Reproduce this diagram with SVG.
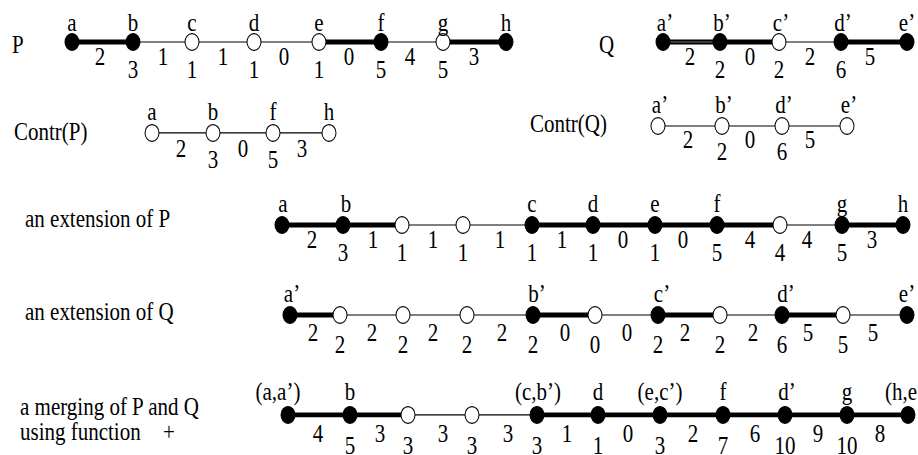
<svg xmlns="http://www.w3.org/2000/svg" width="918" height="455" viewBox="0 0 918 455">
<style>
text{font-family:"Liberation Serif","Times New Roman",serif;font-size:21px;fill:#000}
.m{text-anchor:middle}
.F{fill:#000;stroke:#000;stroke-width:1}
.O{fill:#fff;stroke:#000;stroke-width:1}
.k{stroke:#000;stroke-width:4;fill:none}
.n{stroke:#000;stroke-width:1;fill:none}
.dl{stroke:#777;stroke-width:1;fill:none}
</style>
<rect width="918" height="455" fill="#fff"/>
<g transform="scale(1,1.2)">
<g id="titles">
<text x="12" y="44">P</text>
<text x="599" y="44">Q</text>
<text x="14" y="116.7">Contr(P)</text>
<text x="530" y="110">Contr(Q)</text>
<text x="25" y="189">an extension of P</text>
<text x="25" y="266.7">an extension of Q</text>
<text x="20" y="345.8">a merging of P and Q</text>
<text x="20" y="367">using function</text>
<text x="163" y="367">+</text>
</g>
<g id="connectors">
<!-- P -->
<line class="k" x1="72" y1="35" x2="133" y2="35"/><text class="m" x="100" y="54">2</text>
<line class="n" x1="133" y1="35" x2="192" y2="35"/><text class="m" x="163" y="54">1</text>
<line class="n" x1="192" y1="35" x2="254" y2="35"/><text class="m" x="223" y="54">1</text>
<line class="n" x1="254" y1="35" x2="319" y2="35"/><text class="m" x="284" y="54">0</text>
<line class="k" x1="319" y1="35" x2="381" y2="35"/><text class="m" x="349" y="54">0</text>
<line class="n" x1="381" y1="35" x2="443" y2="35"/><text class="m" x="410" y="54">4</text>
<line class="k" x1="443" y1="35" x2="506" y2="35"/><text class="m" x="474" y="54">3</text>
<!-- Q -->
<line class="k" x1="663" y1="35" x2="720" y2="35"/><line class="dl" x1="663" y1="35" x2="720" y2="35"/><text class="m" x="690" y="54">2</text>
<line class="k" x1="720" y1="35" x2="779" y2="35"/><text class="m" x="750" y="54">0</text>
<line class="n" x1="779" y1="35" x2="841" y2="35"/><text class="m" x="810" y="54">2</text>
<line class="k" x1="841" y1="35" x2="907" y2="35"/><text class="m" x="870" y="54">5</text>
<!-- Contr(P) -->
<line class="n" x1="152" y1="110.8" x2="329" y2="110.8"/>
<text class="m" x="181" y="130.8">2</text><text class="m" x="243" y="130.8">0</text><text class="m" x="302" y="130.8">3</text>
<!-- Contr(Q) -->
<line class="n" x1="658" y1="105" x2="847" y2="105"/>
<text class="m" x="688" y="123.3">2</text><text class="m" x="750" y="123.3">0</text><text class="m" x="810" y="123.3">5</text>
<!-- extension of P -->
<line class="k" x1="282" y1="187.5" x2="402" y2="187.5"/>
<line class="n" x1="402" y1="187.5" x2="532" y2="187.5"/>
<line class="k" x1="532" y1="187.5" x2="780" y2="187.5"/>
<line class="n" x1="780" y1="187.5" x2="842" y2="187.5"/>
<line class="k" x1="842" y1="187.5" x2="903" y2="187.5"/>
<text class="m" x="312" y="206.7">2</text><text class="m" x="373" y="206.7">1</text><text class="m" x="433" y="206.7">1</text><text class="m" x="500" y="206.7">1</text><text class="m" x="562" y="206.7">1</text><text class="m" x="623" y="206.7">0</text><text class="m" x="683" y="206.7">0</text><text class="m" x="750" y="206.7">4</text><text class="m" x="807" y="206.7">4</text><text class="m" x="872" y="206.7">3</text>
<!-- extension of Q -->
<line class="k" x1="290" y1="262.5" x2="340" y2="262.5"/>
<line class="n" x1="340" y1="262.5" x2="533" y2="262.5"/>
<line class="k" x1="533" y1="262.5" x2="595" y2="262.5"/>
<line class="n" x1="595" y1="262.5" x2="658" y2="262.5"/>
<line class="k" x1="658" y1="262.5" x2="720" y2="262.5"/>
<line class="n" x1="720" y1="262.5" x2="782" y2="262.5"/>
<line class="k" x1="782" y1="262.5" x2="843" y2="262.5"/>
<line class="n" x1="843" y1="262.5" x2="907" y2="262.5"/>
<text class="m" x="313" y="284">2</text><text class="m" x="372" y="284">2</text><text class="m" x="433" y="284">2</text><text class="m" x="502" y="284">2</text><text class="m" x="565" y="284">0</text><text class="m" x="627" y="284">0</text><text class="m" x="685" y="284">2</text><text class="m" x="753" y="284">2</text><text class="m" x="808" y="284">5</text><text class="m" x="873" y="284">5</text>
<!-- merging -->
<line class="k" x1="288" y1="345.8" x2="408" y2="345.8"/>
<line class="n" x1="408" y1="345.8" x2="537" y2="345.8"/>
<line class="k" x1="537" y1="345.8" x2="908" y2="345.8"/>
<text class="m" x="318" y="368">4</text><text class="m" x="380" y="368">3</text><text class="m" x="443" y="368">3</text><text class="m" x="508" y="368">3</text><text class="m" x="567" y="368">1</text><text class="m" x="628" y="368">0</text><text class="m" x="693" y="368">2</text><text class="m" x="755" y="368">6</text><text class="m" x="818" y="368">9</text><text class="m" x="880" y="368">8</text>
</g>
<!-- P nodes -->
<g id="P-a"><circle class="F" cx="72" cy="35" r="7"/><text class="m" x="72" y="25.8">a</text></g>
<g id="P-b"><circle class="F" cx="133" cy="35" r="7"/><text class="m" x="133" y="25.8">b</text><text class="m" x="133" y="65">3</text></g>
<g id="P-c"><circle class="O" cx="192" cy="35" r="7"/><text class="m" x="192" y="25.8">c</text><text class="m" x="192" y="65">1</text></g>
<g id="P-d"><circle class="O" cx="254" cy="35" r="7"/><text class="m" x="254" y="25.8">d</text><text class="m" x="254" y="65">1</text></g>
<g id="P-e"><circle class="O" cx="319" cy="35" r="7"/><text class="m" x="319" y="25.8">e</text><text class="m" x="319" y="65">1</text></g>
<g id="P-f"><circle class="F" cx="381" cy="35" r="7"/><text class="m" x="381" y="25.8">f</text><text class="m" x="381" y="65">5</text></g>
<g id="P-g"><circle class="O" cx="443" cy="35" r="7"/><text class="m" x="443" y="25.8">g</text><text class="m" x="443" y="65">5</text></g>
<g id="P-h"><circle class="F" cx="506" cy="35" r="7"/><text class="m" x="506" y="25.8">h</text></g>
<!-- Q nodes -->
<g id="Q-a"><circle class="F" cx="663" cy="35" r="7"/><text class="m" x="665" y="25.8">a’</text></g>
<g id="Q-b"><circle class="F" cx="720" cy="35" r="7"/><text class="m" x="722" y="25.8">b’</text><text class="m" x="720" y="65">2</text></g>
<g id="Q-c"><circle class="O" cx="779" cy="35" r="7"/><text class="m" x="781" y="25.8">c’</text><text class="m" x="779" y="65">2</text></g>
<g id="Q-d"><circle class="F" cx="841" cy="35" r="7"/><text class="m" x="843" y="25.8">d’</text><text class="m" x="841" y="65">6</text></g>
<g id="Q-e"><circle class="F" cx="907" cy="35" r="7"/><text class="m" x="907" y="25.8">e’</text></g>
<!-- Contr(P) nodes -->
<g id="CP-a"><circle class="O" cx="152" cy="110.8" r="7"/><text class="m" x="152" y="100">a</text></g>
<g id="CP-b"><circle class="O" cx="213" cy="110.8" r="7"/><text class="m" x="213" y="100">b</text><text class="m" x="213" y="140">3</text></g>
<g id="CP-f"><circle class="O" cx="273" cy="110.8" r="7"/><text class="m" x="273" y="100">f</text><text class="m" x="273" y="140">5</text></g>
<g id="CP-h"><circle class="O" cx="329" cy="110.8" r="7"/><text class="m" x="329" y="100">h</text></g>
<!-- Contr(Q) nodes -->
<g id="CQ-a"><circle class="O" cx="658" cy="105" r="7"/><text class="m" x="660" y="94.2">a’</text></g>
<g id="CQ-b"><circle class="O" cx="722" cy="105" r="7"/><text class="m" x="724" y="94.2">b’</text><text class="m" x="722" y="133.3">2</text></g>
<g id="CQ-d"><circle class="O" cx="782" cy="105" r="7"/><text class="m" x="784" y="94.2">d’</text><text class="m" x="782" y="133.3">6</text></g>
<g id="CQ-e"><circle class="O" cx="847" cy="105" r="7"/><text class="m" x="849" y="94.2">e’</text></g>
<!-- extension of P nodes -->
<g id="EP-a"><circle class="F" cx="282" cy="187.5" r="7"/><text class="m" x="283" y="176.7">a</text></g>
<g id="EP-b"><circle class="F" cx="343" cy="187.5" r="7"/><text class="m" x="346" y="176.7">b</text><text class="m" x="343" y="217.5">3</text></g>
<g id="EP-x1"><circle class="O" cx="402" cy="187.5" r="7"/><text class="m" x="402" y="217.5">1</text></g>
<g id="EP-x2"><circle class="O" cx="463" cy="187.5" r="7"/><text class="m" x="463" y="217.5">1</text></g>
<g id="EP-c"><circle class="F" cx="532" cy="187.5" r="7"/><text class="m" x="532" y="176.7">c</text><text class="m" x="532" y="217.5">1</text></g>
<g id="EP-d"><circle class="F" cx="593" cy="187.5" r="7"/><text class="m" x="593" y="176.7">d</text><text class="m" x="593" y="217.5">1</text></g>
<g id="EP-e"><circle class="F" cx="655" cy="187.5" r="7"/><text class="m" x="655" y="176.7">e</text><text class="m" x="655" y="217.5">1</text></g>
<g id="EP-f"><circle class="F" cx="717" cy="187.5" r="7"/><text class="m" x="717" y="176.7">f</text><text class="m" x="717" y="217.5">5</text></g>
<g id="EP-x3"><circle class="O" cx="780" cy="187.5" r="7"/><text class="m" x="780" y="217.5">4</text></g>
<g id="EP-g"><circle class="F" cx="842" cy="187.5" r="7"/><text class="m" x="842" y="176.7">g</text><text class="m" x="842" y="217.5">5</text></g>
<g id="EP-h"><circle class="F" cx="903" cy="187.5" r="7"/><text class="m" x="903" y="176.7">h</text></g>
<!-- extension of Q nodes -->
<g id="EQ-a"><circle class="F" cx="290" cy="262.5" r="7"/><text class="m" x="292" y="251.7">a’</text></g>
<g id="EQ-y1"><circle class="O" cx="340" cy="262.5" r="7"/><text class="m" x="340" y="294">2</text></g>
<g id="EQ-y2"><circle class="O" cx="403" cy="262.5" r="7"/><text class="m" x="403" y="294">2</text></g>
<g id="EQ-y3"><circle class="O" cx="467" cy="262.5" r="7"/><text class="m" x="467" y="294">2</text></g>
<g id="EQ-b"><circle class="F" cx="533" cy="262.5" r="7"/><text class="m" x="537" y="251.7">b’</text><text class="m" x="533" y="294">2</text></g>
<g id="EQ-y4"><circle class="O" cx="595" cy="262.5" r="7"/><text class="m" x="595" y="294">0</text></g>
<g id="EQ-c"><circle class="F" cx="658" cy="262.5" r="7"/><text class="m" x="662" y="251.7">c’</text><text class="m" x="658" y="294">2</text></g>
<g id="EQ-y5"><circle class="O" cx="720" cy="262.5" r="7"/><text class="m" x="720" y="294">2</text></g>
<g id="EQ-d"><circle class="F" cx="782" cy="262.5" r="7"/><text class="m" x="786" y="251.7">d’</text><text class="m" x="782" y="294">6</text></g>
<g id="EQ-y6"><circle class="O" cx="843" cy="262.5" r="7"/><text class="m" x="843" y="294">5</text></g>
<g id="EQ-e"><circle class="F" cx="907" cy="262.5" r="7"/><text class="m" x="907" y="251.7">e’</text></g>
<!-- merging nodes -->
<g id="M-aa"><circle class="F" cx="288" cy="345.8" r="7"/><text class="m" x="278" y="333.3">(a,a’)</text></g>
<g id="M-b"><circle class="F" cx="350" cy="345.8" r="7"/><text class="m" x="350" y="333.3">b</text><text class="m" x="350" y="378">5</text></g>
<g id="M-z1"><circle class="O" cx="408" cy="345.8" r="7"/><text class="m" x="408" y="378">3</text></g>
<g id="M-z2"><circle class="O" cx="472" cy="345.8" r="7"/><text class="m" x="472" y="378">3</text></g>
<g id="M-cb"><circle class="F" cx="537" cy="345.8" r="7"/><text class="m" x="538" y="333.3">(c,b’)</text><text class="m" x="537" y="378">3</text></g>
<g id="M-d"><circle class="F" cx="598" cy="345.8" r="7"/><text class="m" x="598" y="333.3">d</text><text class="m" x="598" y="378">1</text></g>
<g id="M-ec"><circle class="F" cx="660" cy="345.8" r="7"/><text class="m" x="660" y="333.3">(e,c’)</text><text class="m" x="660" y="378">3</text></g>
<g id="M-f"><circle class="F" cx="723" cy="345.8" r="7"/><text class="m" x="723" y="333.3">f</text><text class="m" x="723" y="378">7</text></g>
<g id="M-dp"><circle class="F" cx="785" cy="345.8" r="7"/><text class="m" x="787" y="333.3">d’</text><text class="m" x="785" y="378">10</text></g>
<g id="M-g"><circle class="F" cx="847" cy="345.8" r="7"/><text class="m" x="847" y="333.3">g</text><text class="m" x="847" y="378">10</text></g>
<g id="M-he"><circle class="F" cx="908" cy="345.8" r="7"/><text x="885" y="333.3">(h,e’)</text></g>
</g>
</svg>
